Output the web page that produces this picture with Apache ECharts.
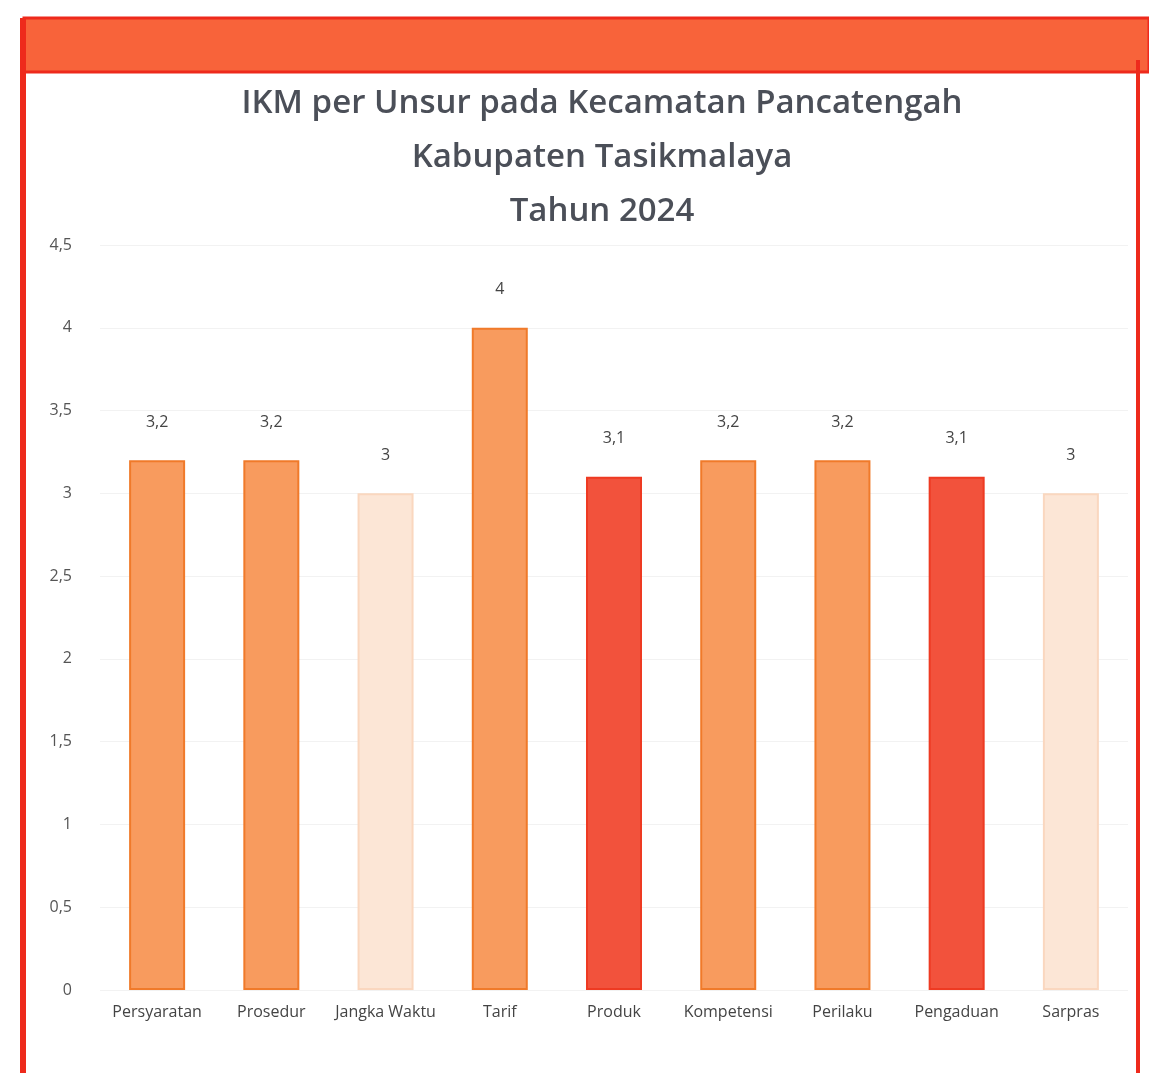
<!DOCTYPE html>
<html>
<head>
<meta charset="utf-8">
<script src="https://cdn.jsdelivr.net/npm/echarts@6/dist/echarts.min.js"></script>
<style>
html,body{margin:0;padding:0;background:#fff;}
#chart{width:1149px;height:1073px;}
</style>
</head>
<body>
<div id="chart"></div>
<script>
const titleLines = ['IKM per Unsur pada Kecamatan Pancatengah', 'Kabupaten Tasikmalaya', 'Tahun 2024'];
const categories = ['Persyaratan', 'Prosedur', 'Jangka Waktu', 'Tarif', 'Produk', 'Kompetensi', 'Perilaku', 'Pengaduan', 'Sarpras'];
const values = [3.2, 3.2, 3, 4, 3.1, 3.2, 3.2, 3.1, 3];
const barColors = ['#F89B5E', '#F89B5E', '#FCE6D6', '#F89B5E', '#F2523C', '#F89B5E', '#F89B5E', '#F2523C', '#FCE6D6'];
const borderColors = ['#F07A2A', '#F07A2A', '#FAD7BF', '#F07A2A', '#EE3A22', '#F07A2A', '#F07A2A', '#EE3A22', '#FAD7BF'];
const yTicks = [0, 0.5, 1, 1.5, 2, 2.5, 3, 3.5, 4, 4.5];

const fmt = v => String(v).replace('.', ',');

const chart = echarts.init(document.getElementById('chart'));
chart.setOption({
  backgroundColor: '#ffffff',
  animation: false,
  title: {
    text: titleLines.join('\n'),
    left: 597, top: 72, textAlign: 'center',
    textStyle: { fontFamily: 'Open Sans', fontWeight: 600, fontSize: 33, color: '#4B4F58', lineHeight: 54 }
  },
  graphic: [
    { type: 'rect', shape: { x: 24, y: 18, width: 1125, height: 54 }, style: { fill: '#F8633A', stroke: '#EE2A1C', lineWidth: 3 }, z: 10 },
    { type: 'rect', shape: { x: 20, y: 18, width: 6, height: 1060 }, style: { fill: '#EE2A1C' }, z: 10 },
    { type: 'rect', shape: { x: 1136, y: 60, width: 4, height: 1020 }, style: { fill: '#EE2A1C' }, z: 10 }
  ],
  grid: { left: 100, right: 21, top: 245, bottom: 83 },
  xAxis: {
    type: 'category', data: categories,
    axisLine: { show: false }, axisTick: { show: false },
    axisLabel: { interval: 0, color: '#444', fontFamily: 'Open Sans', fontSize: 16, margin: 14 }
  },
  yAxis: {
    type: 'value', min: 0, max: 4.5, interval: 0.5,
    axisLine: { show: false }, axisTick: { show: false },
    splitLine: { lineStyle: { color: '#F2F2F2' } },
    axisLabel: { color: '#555', fontFamily: 'Open Sans', fontSize: 16, margin: 28, formatter: v => fmt(v) }
  },
  series: [{
    type: 'bar', barWidth: 56,
    data: values.map((v, i) => ({ value: v, itemStyle: { color: barColors[i], borderColor: borderColors[i], borderWidth: 2 } })),
    label: { show: true, position: 'top', distance: 30, color: '#444', fontFamily: 'Open Sans', fontSize: 16, formatter: p => fmt(p.value) }
  }]
});
</script>
</body>
</html>
